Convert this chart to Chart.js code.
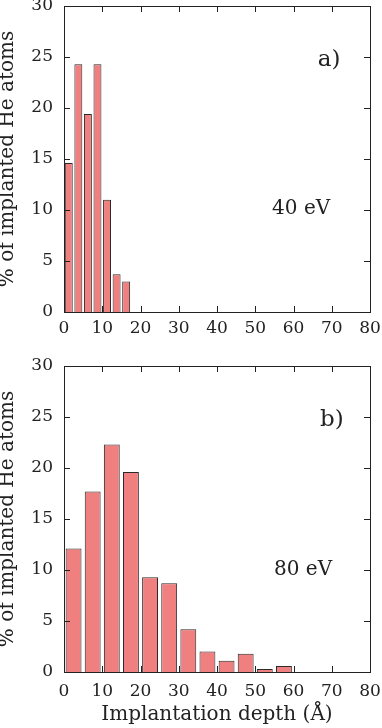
<!DOCTYPE html>
<html>
<head>
<meta charset="utf-8">
<script src="https://cdn.jsdelivr.net/npm/chart.js@4.4.0/dist/chart.umd.min.js"></script>
<style>
html, body { margin: 0; padding: 0; background: #fff; }
#wrapA { position: absolute; left: 0; top: 0; width: 382px; height: 345px; }
#wrapB { position: absolute; left: 0; top: 345px; width: 382px; height: 383px; }
</style>
</head>
<body>
<div id="wrapA"><canvas id="chartA"></canvas></div>
<div id="wrapB"><canvas id="chartB"></canvas></div>
<script>
// implantation depth (bin centres, Å) and share of implanted He atoms (%)
const depth40 = [1.25, 3.75, 6.25, 8.75, 11.25, 13.75, 16.25];
const percent40 = [14.6, 24.3, 19.4, 24.3, 11.0, 3.7, 3.0];

const depth80 = [2.5, 7.5, 12.5, 17.5, 22.5, 27.5, 32.5, 37.5, 42.5, 47.5, 52.5, 57.5];
const percent80 = [12.1, 17.7, 22.3, 19.6, 9.3, 8.7, 4.2, 2.0, 1.1, 1.8, 0.3, 0.6];

const xTicks = [0, 10, 20, 30, 40, 50, 60, 70, 80];
const yTicks = [0, 5, 10, 15, 20, 25, 30];

const FONT = '"DejaVu Serif", serif';
const INK = '#222';

// frame round the plot, inward ticks on all four sides, and the panel notes
const framePlugin = {
  id: 'frame',
  afterDatasetsDraw(chart, args, opts) {
    const { ctx, chartArea: a, scales: { x, y } } = chart;
    ctx.save();
    ctx.strokeStyle = INK;
    ctx.lineWidth = 1;
    ctx.beginPath();
    x.ticks.forEach(t => {
      if (t.value <= x.min || t.value >= x.max) return;
      const px = Math.round(x.getPixelForValue(t.value)) + 0.5;
      ctx.moveTo(px, a.bottom); ctx.lineTo(px, a.bottom - 6);
      ctx.moveTo(px, a.top); ctx.lineTo(px, a.top + 6);
    });
    y.ticks.forEach(t => {
      if (t.value <= y.min || t.value >= y.max) return;
      const py = Math.round(y.getPixelForValue(t.value)) + 0.5;
      ctx.moveTo(a.left, py); ctx.lineTo(a.left + 6, py);
      ctx.moveTo(a.right, py); ctx.lineTo(a.right - 6, py);
    });
    ctx.stroke();
    ctx.strokeRect(Math.round(a.left) + 0.5, Math.round(a.top) + 0.5,
      Math.round(a.right - a.left), Math.round(a.bottom - a.top));

    ctx.fillStyle = INK;
    ctx.textAlign = 'center';
    ctx.textBaseline = 'middle';
    (opts.notes || []).forEach(n => {
      ctx.font = n.size + 'px ' + FONT;
      ctx.fillText(n.text, x.getPixelForValue(n.x), y.getPixelForValue(n.y));
    });
    ctx.restore();
  }
};

function makeChart(id, depth, percent, notes, withTitle, pad, xHeight, xPad) {
  return new Chart(document.getElementById(id), {
    type: 'bar',
    data: {
      datasets: [{
        data: depth.map((d, i) => ({ x: d, y: percent[i] })),
        backgroundColor: 'rgb(240, 128, 128)',
        borderColor: '#2a2a2a',
        borderWidth: 1,
        categoryPercentage: 1,
        barPercentage: 0.83
      }]
    },
    options: {
      responsive: true,
      maintainAspectRatio: false,
      animation: false,
      layout: { padding: pad },
      plugins: {
        legend: { display: false },
        tooltip: { enabled: false },
        frame: { notes: notes }
      },
      scales: {
        x: {
          type: 'linear',
          min: 0,
          max: 80,
          offset: false,
          grid: { display: false, drawTicks: false, offset: false },
          border: { display: false },
          afterBuildTicks: s => { s.ticks = xTicks.map(v => ({ value: v })); },
          afterFit: s => { s.height = xHeight; s.paddingLeft = 0; s.paddingRight = 0; },
          ticks: { color: INK, padding: xPad, maxRotation: 0, autoSkip: false, font: { family: FONT, size: 17 } },
          title: {
            display: withTitle,
            text: 'Implantation depth (Å)',
            color: INK,
            padding: { top: 0, bottom: 3 },
            font: { family: FONT, size: 20, lineHeight: 1 }
          }
        },
        y: {
          min: 0,
          max: 30,
          grid: { display: false, drawTicks: false },
          border: { display: false },
          afterBuildTicks: s => { s.ticks = yTicks.map(v => ({ value: v })); },
          afterFit: s => { s.width = 64; s.paddingTop = 0; s.paddingBottom = 0; },
          ticks: { color: INK, padding: 11, font: { family: FONT, size: 17 } },
          title: {
            display: true,
            text: '% of implanted He atoms',
            color: INK,
            padding: { top: -2, bottom: 0 },
            font: { family: FONT, size: 20, lineHeight: 1 }
          }
        }
      }
    },
    plugins: [framePlugin]
  });
}

makeChart('chartA', depth40, percent40,
  [{ text: 'a)', x: 69.3, y: 24.7, size: 23 }, { text: '40 eV', x: 62, y: 10.1, size: 20 }],
  false, { top: 6, right: 12, left: 0, bottom: 0 }, 33, 6);

makeChart('chartB', depth80, percent80,
  [{ text: 'b)', x: 70, y: 24.7, size: 23 }, { text: '80 eV', x: 62.5, y: 10.0, size: 20 }],
  true, { top: 21, right: 12, left: 0, bottom: 0 }, 56, 9);
</script>
</body>
</html>
